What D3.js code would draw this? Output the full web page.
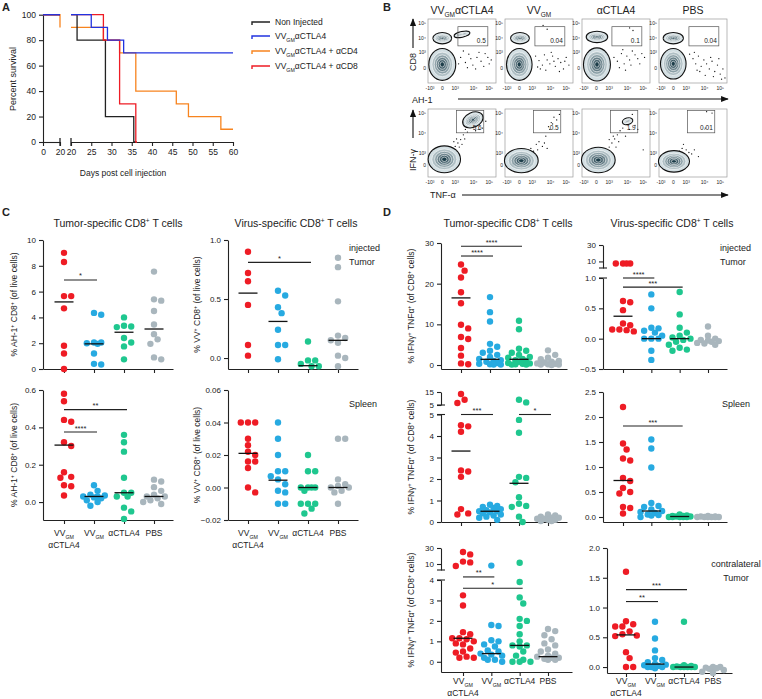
<!DOCTYPE html>
<html>
<head>
<meta charset="utf-8">
<script src="https://cdn.jsdelivr.net/npm/d3@7"></script>
<style>
body{margin:0;background:#fff}
svg{display:block}
text{font-family:"Liberation Sans",Arial,sans-serif;fill:#222}
</style>
</head>
<body>
<script>
// ---------- data ----------
var groupColors = ["#ee1c25", "#27aae1", "#1fc78f", "#a9b6bd"];
var groupLabels = [["VV_{GM}", "αCTLA4"], ["VV_{GM}"], ["αCTLA4"], ["PBS"]];

// A: survival
var survNames = ["Non Injected", "VV_{GM}αCTLA4", "VV_{GM}αCTLA4 + αCD4", "VV_{GM}αCTLA4 + αCD8"];
var survColors = ["#222222", "#2233e0", "#f7841f", "#ee1c25"];
var survEarly = [[[0,100],[20,100]], [[0,100],[20,100]], [[0,100],[20,90]], [[0,100],[20,100]]];
var survNon = [[20,100],[21.5,80],[28.5,20],[35.5,0],[36,0]];
var survVV = [[20,100],[25,90],[29,80],[33,70],[60,70]];
var survCD4 = [[20,90],[28,80],[32,70],[36,40],[46,30],[49,20],[57,10],[60,10]];
var survCD8 = [[20,100],[28,80],[32,30],[36,0],[36.3,0]];
var survTicksA = [0, 20];
var survTicksB = [20, 25, 30, 35, 40, 45, 50, 55, 60];
var survYTicks = [0, 20, 40, 60, 80, 100];

// B: flow plots (display units 0-100)
var flowTitles = ["VV_{GM}αCTLA4", "VV_{GM}", "αCTLA4", "PBS"];
var flowTopGate = ["0.5", "0.04", "0.1", "0.04"];
var flowBotGate = ["5.6", "0.5", "1.9", "0.01"];
var flowXTicks = ["-10³", "0", "10³", "10⁴", "10⁵"];
var flowXTickPos = [3, 21, 40, 67, 90];
var flowYTicks = ["10⁵", "10⁴", "10³", "0"];
var flowTopYTickPos = [94, 70, 48, 23];
var flowBotYTickPos = [94, 65, 35, 18];
var popsTop = [
  [[21,29,19,24,0],[21,70,13,8,0],[50,76,11,3.5,-12]],
  [[21,29,18,24,0],[22,70,13,8,0]],
  [[22,29,19,25,0],[22,72,15,8,0]],
  [[21,30,18,23,0],[21,70,14,8,0]]
];
var popsBot = [
  [[24,26,23,19,0],[66,84,15,10,-25]],
  [[24,24,24,17,0]],
  [[24,25,24,18,0],[67,82,7,4,-15]],
  [[22,23,22,15,0]]
];
var dotsTop = [
  [[48,40],[55,32],[60,45],[66,28],[72,40],[78,34],[84,46],[90,30],[70,22],[58,24],[63,38],[82,26],[88,40],[52,50],[45,30],[75,48],[93,36]],
  [[45,42],[50,35],[55,28],[58,44],[62,36],[66,30],[70,42],[74,26],[78,38],[82,32],[86,22],[90,40],[94,28],[60,20],[68,48],[52,22],[80,18],[88,34],[48,25],[72,34],[56,90],[62,84]],
  [[47,40],[52,34],[58,46],[62,30],[66,42],[70,36],[74,50],[78,44],[82,38],[88,46],[92,40],[55,24],[64,20],[72,28],[60,52],[85,30],[70,86],[75,82]],
  [[45,45],[50,38],[54,30],[58,42],[62,26],[66,36],[70,30],[74,22],[78,34],[82,18],[86,28],[90,14],[94,22],[97,8],[60,18],[68,12],[76,40],[52,48],[88,38],[80,10],[92,6],[56,20]]
];
var dotsBot = [
  [[36,40],[40,45],[44,50],[48,55],[52,62],[46,44],[42,56],[50,48],[55,70],[58,66],[60,75],[78,90],[80,72],[75,70],[85,82],[70,68],[38,52],[54,56]],
  [[34,35],[38,42],[42,38],[46,48],[50,52],[55,45],[60,60],[64,74],[68,80],[72,88],[76,84],[70,78],[80,92],[66,70],[58,50],[62,42],[48,40]],
  [[36,38],[40,44],[44,50],[48,56],[52,62],[56,68],[60,72],[50,44],[54,52],[46,60],[74,92],[78,76],[82,70],[40,55],[64,60],[70,70],[90,40]],
  [[30,38],[34,42],[40,40],[44,36],[48,34],[36,48],[70,96],[78,94],[68,72],[58,30],[52,40]]
];

// C: % of live cells
var cTumorInj = [[9.0,8.3,5.65,5.65,4.7,1.8,1.2,0],[4.2,4.35,2.05,2.05,2.0,1.95,1.2,0.35,0.4],[4.0,3.3,3.25,3.35,2.4,2.05,1.75,0.75],[7.55,5.3,5.4,4.5,3.45,2.7,2.3,1.95,0.75,0.9]];
var cTumorInjMed = [5.2, 1.95, 2.85, 3.1];
var cVirusInj = [[0.9,0.72,0.65,0.45,0.11,0.02],[0.57,0.53,0.43,0.38,0.24,0.11,0.11,-0.01],[0.14,-0.02,-0.02,-0.05,-0.07,-0.07],[0.85,0.77,0.48,0.19,0.17,0.13,0.15,0.02,0.0,-0.07]];
var cVirusInjMed = [0.55, 0.31, -0.065, 0.15];
var cTumorSpl = [[0.58,0.54,0.44,0.43,0.32,0.30,0.16,0.135,0.13,0.09,0.085,0.035],[0.09,0.06,0.04,0.035,0.03,0.03,0.025,0.02,0.01,0.0,-0.02],[0.36,0.32,0.27,0.13,0.05,0.05,0.03,0.03,-0.03,-0.05,-0.09],[0.12,0.11,0.08,0.06,0.04,0.03,0.03,0.02,0.01,0.0,-0.01]];
var cTumorSplMed = [0.305, 0.03, 0.05, 0.03];
var cVirusSpl = [[0.04,0.04,0.04,0.03,0.026,0.022,0.02,0.016,0.016,0.012,0.0,-0.003],[0.04,0.03,0.02,0.01,0.01,0.007,0.005,0.002,-0.002,-0.003,-0.01,-0.01],[0.02,0.01,0.01,0.0,0.0,0.0,0.0,-0.002,-0.01,-0.01,-0.01,-0.013,-0.016],[0.03,0.03,0.005,0.002,0.001,0.0,0.0,-0.002,-0.003,-0.01]];
var cVirusSplMed = [0.021, 0.0045, 0.0, 0.0];

// D: % IFNg+ TNFa+ of CD8+
var dTumorInj = [[24.7,23.2,21.5,17.9,15.2,9.9,9.0,6.9,6.4,4.2,2.3,0.4,0.2],[16.7,13.0,10.7,5.2,4.5,3.5,3.0,2.5,2.0,1.5,1.2,1.0,0.8,0.5,0.3,0.2,0.1,0.1],[10.9,8.8,4.0,3.5,3.0,2.5,2.0,1.8,1.5,1.2,1.0,0.8,0.5,0.4,0.3,0.2,0.1,0.1],[3.6,2.5,1.8,1.4,1.0,0.8,0.6,0.4,0.3,0.2,0.1,0.1,0.0]];
var dTumorInjMed = [16.5, 1.4, 1.4, null];
var dVirusInj = [[7.5,7.5,7.5,7.5,0.62,0.6,0.47,0.25,0.22,0.15,0.15,0.14,0.12],[0.73,0.5,0.18,0.17,0.13,0.1,0.05,0.0,0.0,0.0,-0.2,-0.35],[0.77,0.4,0.18,0.1,0.05,0.02,0.0,-0.02,-0.05,-0.1,-0.15,-0.2,-0.18],[0.2,0.05,0.0,-0.02,-0.03,-0.05,-0.07,-0.08,-0.1,-0.04]];
var dVirusInjMed = [0.37, 0.0, 0.0, null];
var dTumorSpl = [[13.5,9,6.5,4.45,4.5,4.2,2.4,2.35,2.1,0.6,0.35,0.4],[0.8,0.75,0.7,0.65,0.6,0.55,0.5,0.5,0.45,0.4,0.35,0.3,0.25,0.2,0.1],[9,7,4.75,4.15,2.1,2.05,1.85,1.15,0.85,0.75,0.7,0.25,0.0],[0.35,0.3,0.25,0.2,0.2,0.15,0.15,0.1,0.1,0.05,0.05]];
var dTumorSplMed = [3.3, 0.5, 1.8, null];
var dVirusSpl = [[2.2,1.47,1.35,1.17,1.13,0.78,0.72,0.58,0.5,0.47,0.2,0.18,0.07],[1.55,1.37,0.99,0.28,0.22,0.2,0.15,0.12,0.1,0.08,0.05,0.04,0.03,0.0],[0.05,0.03,0.02,0.01,0.0,0.0,0.0,0.0,0.0,0.01,0.02],[0.02,0.01,0.0,0.0,0.0,0.0,0.0,0.01,0.0]];
var dVirusSplMed = [0.73, 0.12, 0.01, null];
var dTumorCon = [[25,22,13,12,7.5,3.25,2.75,1.45,1.35,1.15,1.1,1.15,1.0,0.9,0.85,0.65,0.5,0.45,0.25,0.2,0.2],[8,1.8,1.75,1.05,1.0,0.85,0.75,0.55,0.5,0.4,0.35,0.3,0.2,0.1,0.1,0.0],[11.5,3.9,3.15,2.85,2.1,2.0,1.75,1.35,1.0,0.8,0.8,0.75,0.5,0.3,0.1,0.0,0.0,0.0],[1.6,1.5,1.3,1.1,0.9,0.8,0.6,0.5,0.4,0.3,0.25,0.2,0.2,0.15,0.1,0.1]];
var dTumorConMed = [1.15, 0.4, 0.8, 0.25];
var dVirusCon = [[1.6,0.77,0.72,0.68,0.68,0.6,0.55,0.53,0.52,0.25,0.15,0.0,0.0],[0.76,0.48,0.28,0.15,0.12,0.08,0.05,0.04,0.03,0.02,0.0,0.0,0.0,-0.02],[0.76,0.03,0.02,0.01,0.0,0.0,0.0,0.0,0.0,0.0],[0.0,-0.02,-0.03,-0.05,-0.08,-0.1,0.0,-0.01]];
var dVirusConMed = [0.54, 0.05, 0.0, null];

// ---------- helpers ----------
var svg = d3.select("body").append("svg").attr("width", 762).attr("height", 699);

// text with _{sub} and ^{sup}
function rich(sel, str, fs) {
  var parts = str.split(/(_\{[^}]*\}|\^\{[^}]*\})/).filter(function (p) { return p.length; });
  var shift = 0;
  parts.forEach(function (p) {
    var t = sel.append("tspan");
    if (p[0] == "_" || p[0] == "^") {
      var d = p[0] == "_" ? fs * 0.3 : -fs * 0.4;
      t.text(p.slice(2, -1)).attr("font-size", fs * 0.62).attr("dy", d - shift);
      shift = d;
    } else {
      t.text(p).attr("dy", -shift);
      shift = 0;
    }
  });
  return sel;
}
function label(x, y, str, fs, anchor, rot) {
  var t = svg.append("text").attr("font-size", fs).attr("text-anchor", anchor || "start");
  if (rot) t.attr("transform", "translate(" + x + "," + y + ") rotate(-90)");
  else t.attr("x", x).attr("y", y);
  return rich(t, str, fs);
}
function styleAxis(g, fs) {
  g.selectAll("path,line").attr("stroke", "#222").attr("stroke-width", 1.1);
  g.selectAll("text").attr("font-size", fs).attr("fill", "#222").attr("font-family", "Liberation Sans, Arial, sans-serif");
}

// panel letters
[["A", 2, 11], ["B", 383, 11], ["C", 2, 216], ["D", 383, 216]].forEach(function (p) {
  svg.append("text").attr("x", p[1]).attr("y", p[2]).attr("font-size", 11).attr("font-weight", "bold").text(p[0]);
});

// ---------- A: survival ----------
(function () {
  var xA = d3.scaleLinear().domain([0, 20]).range([43, 60]);
  var xB = d3.scaleLinear().domain([20, 60]).range([71, 233]);
  var y = d3.scaleLinear().domain([0, 100]).range([142, 14.7]);
  var gy = svg.append("g").attr("transform", "translate(43,0)")
    .call(d3.axisLeft(y).tickValues(survYTicks).tickSize(4).tickSizeOuter(0));
  styleAxis(gy, 8.5);
  var g1 = svg.append("g").attr("transform", "translate(0,142)")
    .call(d3.axisBottom(xA).tickValues(survTicksA).tickSize(4).tickSizeOuter(0));
  var g2 = svg.append("g").attr("transform", "translate(0,142)")
    .call(d3.axisBottom(xB).tickValues(survTicksB).tickSize(4).tickSizeOuter(0));
  styleAxis(g1, 8.5); styleAxis(g2, 8.5);
  // break marks
  [xA(20), xB(20)].forEach(function (bx) {
    svg.append("line").attr("x1", bx).attr("x2", bx).attr("y1", 138).attr("y2", 146).attr("stroke", "#222").attr("stroke-width", 1.3);
  });
  var late = [survNon, survVV, survCD4, survCD8];
  var order = [2, 0, 3, 1];
  order.forEach(function (i) {
    svg.append("path").datum(survEarly[i])
      .attr("d", d3.line().x(function (d) { return xA(d[0]); }).y(function (d) { return y(d[1]); }).curve(d3.curveStepAfter))
      .attr("fill", "none").attr("stroke", survColors[i]).attr("stroke-width", 1.3);
    svg.append("path").datum(late[i])
      .attr("d", d3.line().x(function (d) { return xB(d[0]); }).y(function (d) { return y(d[1]); }).curve(d3.curveStepAfter))
      .attr("fill", "none").attr("stroke", survColors[i]).attr("stroke-width", 1.3);
  });
  label(16, 79, "Percent survival", 9, "middle", true);
  label(123, 176, "Days post cell injection", 8.5, "middle");
  var ly = [22, 36, 51, 66];
  survNames.forEach(function (n, i) {
    svg.append("path").attr("d", "M252," + (ly[i] + 3) + "V" + ly[i] + "H270")
      .attr("fill", "none").attr("stroke", survColors[i]).attr("stroke-width", 1.4);
    label(275, ly[i] + 3, n, 8.5);
  });
})();

// ---------- B: flow plots ----------
var flowX = [428, 505, 582, 659], flowW = 68;
var levelColor = d3.interpolateRgb("#d3dfe3", "#1d3e4a");
var levels = [1, 0.8, 0.62, 0.46, 0.31, 0.17];
function flowPlot(x0, y0, h, pops, dots, gate, gateVal, yTickPos) {
  var fx = d3.scaleLinear().domain([0, 100]).range([x0, x0 + flowW]);
  var fy = d3.scaleLinear().domain([0, 100]).range([y0 + h, y0]);
  var g = svg.append("g");
  g.append("rect").attr("x", x0).attr("y", y0).attr("width", flowW).attr("height", h)
    .attr("fill", "#fff").attr("stroke", "#9a9a9a").attr("stroke-width", 0.7);
  g.selectAll("circle.dot").data(dots).enter().append("circle")
    .attr("cx", function (d) { return fx(d[0]); }).attr("cy", function (d) { return fy(d[1]); })
    .attr("r", 0.65).attr("fill", "#111");
  function ell(p, k) {
    var cx = fx(p[0]), cy = fy(p[1]);
    return g.append("ellipse").attr("cx", cx).attr("cy", cy)
      .attr("rx", (fx(p[2]) - fx(0)) * k).attr("ry", (fy(0) - fy(p[3])) * k)
      .attr("transform", "rotate(" + p[4] + "," + cx + "," + cy + ")");
  }
  pops.forEach(function (p) { ell(p, 1).attr("fill", levelColor(0)).attr("stroke", "#111").attr("stroke-width", 2.2); });
  pops.forEach(function (p) {
    levels.forEach(function (k, i) {
      ell(p, k).attr("fill", levelColor(i / (levels.length - 1))).attr("stroke", i ? "#fff" : "none").attr("stroke-width", 0.6);
    });
  });
  g.append("rect").attr("x", fx(gate[0])).attr("y", fy(gate[3]))
    .attr("width", fx(gate[1]) - fx(gate[0])).attr("height", fy(gate[2]) - fy(gate[3]))
    .attr("fill", "none").attr("stroke", "#555").attr("stroke-width", 0.7);
  g.append("text").attr("x", fx(gate[1]) - 2).attr("y", fy(gate[2]) - 2.5)
    .attr("text-anchor", "end").attr("font-size", 6.5).text(gateVal);
  flowXTicks.forEach(function (t, i) {
    g.append("text").attr("x", fx(flowXTickPos[i])).attr("y", y0 + h + 7).attr("text-anchor", "middle")
      .attr("font-size", 5).attr("fill", "#444").text(t);
  });
  flowYTicks.forEach(function (t, i) {
    g.append("text").attr("x", x0 - 2).attr("y", fy(yTickPos[i]) + 2).attr("text-anchor", "end")
      .attr("font-size", 5).attr("fill", "#444").text(t);
  });
}
flowTitles.forEach(function (t, i) {
  label(flowX[i] + flowW / 2, 14, t, 10.5, "middle");
  flowPlot(flowX[i], 19, 64, popsTop[i], dotsTop[i], [44, 88, 58, 88], flowTopGate[i], flowTopYTickPos);
  flowPlot(flowX[i], 109, 68, popsBot[i], dotsBot[i], [42, 82, 65, 98], flowBotGate[i], flowBotYTickPos);
});
svg.append("defs").append("marker").attr("id", "arr").attr("viewBox", "0 0 10 10")
  .attr("refX", 9).attr("refY", 5).attr("markerWidth", 7).attr("markerHeight", 7).attr("orient", "auto-start-reverse")
  .append("path").attr("d", "M0,1L10,5L0,9z").attr("fill", "#111");
function arrow(x1, y1, x2, y2) {
  svg.append("line").attr("x1", x1).attr("y1", y1).attr("x2", x2).attr("y2", y2)
    .attr("stroke", "#111").attr("stroke-width", 1.1).attr("marker-end", "url(#arr)");
}
label(412, 103, "AH-1", 9, "start");
arrow(458, 99, 728, 99);
label(416, 62, "CD8", 9, "middle", true);
arrow(413, 48, 413, 19);
label(430, 198, "TNF-α", 9, "start");
arrow(462, 195, 728, 195);
label(416, 160, "IFN-γ", 9, "middle", true);
arrow(413, 138, 413, 110);

// ---------- C & D: dot plots ----------
function dotPlot(cfg) {
  var xs = d3.scaleLinear().domain([0, 3]).range([cfg.cats[0], cfg.cats[3]]);
  var xa = d3.scaleLinear().domain([xs.invert(cfg.x0), xs.invert(cfg.x1)]).range([cfg.x0, cfg.x1]);
  var segs = cfg.segs.map(function (s) { return d3.scaleLinear().domain(s.d).range(s.r); });
  var lower = segs[0];
  function y(v) { return (segs.length > 1 && v > lower.domain()[1]) ? segs[1](v) : lower(v); }
  var bottom = cfg.segs[0].r[0];
  var top = cfg.segs[cfg.segs.length - 1].r[1];
  var gx = svg.append("g").attr("transform", "translate(0," + bottom + ")")
    .call(d3.axisBottom(xa).tickValues([0, 1, 2, 3]).tickFormat("").tickSize(4).tickSizeOuter(0));
  styleAxis(gx, 8);
  cfg.segs.forEach(function (s, i) {
    var gy = svg.append("g").attr("transform", "translate(" + cfg.x0 + ",0)")
      .call(d3.axisLeft(segs[i]).tickValues(s.t).tickSize(4).tickSizeOuter(0).tickFormat(d3.format(s.f)));
    styleAxis(gy, 8);
  });
  if (segs.length > 1) {
    [cfg.segs[0].r[1], cfg.segs[1].r[0]].forEach(function (by) {
      svg.append("line").attr("x1", cfg.x0 - 4).attr("x2", cfg.x0 + 4).attr("y1", by).attr("y2", by)
        .attr("stroke", "#222").attr("stroke-width", 1.1);
    });
  }
  cfg.data.forEach(function (vals, i) {
    var placed = [];
    vals.slice().sort(function (a, b) { return b - a; }).forEach(function (v) {
      var py = y(v), best = 0, bestD = -1;
      for (var k = 0; k < 7; k++) {
        var o = (k % 2 ? 1 : -1) * Math.ceil(k / 2) * 3.6;
        var dmin = d3.min(placed, function (p) { return Math.hypot(p[0] - o, p[1] - py); });
        if (dmin === undefined || dmin >= 6.2) { best = o; bestD = 99; break; }
        if (dmin > bestD + 0.3) { bestD = dmin; best = o; }
      }
      placed.push([best, py]);
    });
    svg.append("g").selectAll("circle").data(placed).enter().append("circle")
      .attr("cx", function (d) { return xs(i) + d[0]; }).attr("cy", function (d) { return d[1]; })
      .attr("r", 3.2).attr("fill", groupColors[i]);
  });
  cfg.med.forEach(function (m, i) {
    if (m === null) return;
    svg.append("line").attr("x1", xs(i) - 9.5).attr("x2", xs(i) + 9.5).attr("y1", y(m)).attr("y2", y(m))
      .attr("stroke", "#111").attr("stroke-width", 1.3);
  });
  (cfg.sig || []).forEach(function (s) {
    var sy = lower(s[2]), a = xs(s[0]), b = xs(s[1]) + 3;
    svg.append("line").attr("x1", a).attr("x2", b).attr("y1", sy).attr("y2", sy)
      .attr("stroke", "#222").attr("stroke-width", 1.1);
    svg.append("text").attr("x", (a + b) / 2).attr("y", sy - 1.5).attr("text-anchor", "middle")
      .attr("font-size", 7.5).text(s[3]);
  });
  label(cfg.lx, (top + bottom) / 2, cfg.ylab, 8.5, "middle", true);
  if (cfg.xlabY) {
    groupLabels.forEach(function (gl, i) {
      gl.forEach(function (t, j) { label(xs(i), cfg.xlabY + j * 12, t, 8.5, "middle"); });
    });
  }
}

var cLab = "% AH-1^{+} CD8^{+} (of live cells)";
var cLab2 = "% VV^{+} CD8^{+} (of live cells)";
var dLab = "% IFNγ^{+} TNFα^{+} (of CD8^{+} cells)";
var cL = [64, 94, 124, 154], cR = [248, 278, 308, 338];
var dL = [461, 490, 519, 548], dR = [623, 651, 679, 708];

label(118, 227, "Tumor-specific CD8^{+} T cells", 10.5, "middle");
label(296, 227, "Virus-specific CD8^{+} T cells", 10.5, "middle");
label(508, 227, "Tumor-specific CD8^{+} T cells", 10.5, "middle");
label(672, 227, "Virus-specific CD8^{+} T cells", 10.5, "middle");

dotPlot({cats: cL, x0: 43, x1: 173, segs: [{d: [0, 10], r: [369, 240], t: [0, 2, 4, 6, 8, 10], f: "d"}],
  data: cTumorInj, med: cTumorInjMed, sig: [[0, 1, 6.9, "*"]], lx: 17, ylab: cLab});
dotPlot({cats: cR, x0: 228, x1: 358, segs: [{d: [-0.093, 1], r: [369, 240], t: [0, 0.5, 1], f: ".1f"}],
  data: cVirusInj, med: cVirusInjMed, sig: [[0, 2, 0.81, "*"]], lx: 200, ylab: cLab2});
dotPlot({cats: cL, x0: 43, x1: 173, segs: [{d: [-0.096, 0.6], r: [520, 390], t: [0, 0.2, 0.4, 0.6], f: ".1f"}],
  data: cTumorSpl, med: cTumorSplMed, sig: [[0, 1, 0.375, "****"], [0, 2, 0.495, "**"]], lx: 17, ylab: cLab, xlabY: 536});
dotPlot({cats: cR, x0: 228, x1: 358, segs: [{d: [-0.02, 0.06], r: [520, 390], t: [-0.02, 0, 0.02, 0.04, 0.06], f: ".2f"}],
  data: cVirusSpl, med: cVirusSplMed, lx: 200, ylab: cLab2, xlabY: 536});

dotPlot({cats: dL, x0: 441, x1: 567, segs: [{d: [-0.98, 30], r: [369, 243], t: [0, 10, 20, 30], f: "d"}],
  data: dTumorInj, med: dTumorInjMed, sig: [[0, 2, 29.2, "****"], [0, 1, 26.8, "****"]], lx: 414, ylab: dLab});
dotPlot({cats: dR, x0: 603, x1: 727, segs: [{d: [-0.5, 1], r: [369, 278], t: [-0.5, 0, 0.5, 1], f: ".1f"}, {d: [2, 30], r: [268, 245], t: [10, 30], f: "d"}],
  data: dVirusInj, med: dVirusInjMed, sig: [[0, 1, 1.0, "****"], [0, 2, 0.85, "***"]], lx: 584, ylab: ""});
dotPlot({cats: dL, x0: 441, x1: 567, segs: [{d: [0, 5], r: [522, 414.5], t: [0, 1, 2, 3, 4, 5], f: "d"}, {d: [5, 15], r: [405, 392], t: [5, 15], f: "d"}],
  data: dTumorSpl, med: dTumorSplMed, sig: [[0, 1, 5.0, "***"], [2, 3, 5.0, "*"]], lx: 414, ylab: dLab});
dotPlot({cats: dR, x0: 603, x1: 727, segs: [{d: [-0.1, 2.5], r: [522, 392], t: [0, 0.5, 1, 1.5, 2, 2.5], f: ".1f"}],
  data: dVirusSpl, med: dVirusSplMed, sig: [[0, 2, 1.82, "***"]], lx: 584, ylab: ""});
dotPlot({cats: [463, 491, 520, 548], x0: 441, x1: 572, segs: [{d: [-0.5, 4], r: [672, 580], t: [0, 1, 2, 3, 4], f: "d"}, {d: [2.5, 30], r: [570, 548], t: [10, 30], f: "d"}],
  data: dTumorCon, med: dTumorConMed, sig: [[0, 1, 4.15, "**"], [0, 2, 3.6, "*"]], lx: 414, ylab: dLab, xlabY: 684});
dotPlot({cats: [626, 654, 683, 713], x0: 607, x1: 732, segs: [{d: [-0.1, 2.0], r: [673, 548], t: [0, 0.5, 1, 1.5, 2], f: ".1f"}],
  data: dVirusCon, med: dVirusConMed, sig: [[0, 1, 1.1, "**"], [0, 2, 1.3, "***"]], lx: 588, ylab: "", xlabY: 684});

// notes
label(349, 251, "injected", 9); label(349, 265, "Tumor", 9);
label(349, 407, "Spleen", 9);
label(720, 251, "injected", 9); label(720, 265, "Tumor", 9);
label(722, 407, "Spleen", 9);
label(736, 567, "contralateral", 9, "middle"); label(736, 581, "Tumor", 9, "middle");
</script>
</body>
</html>
